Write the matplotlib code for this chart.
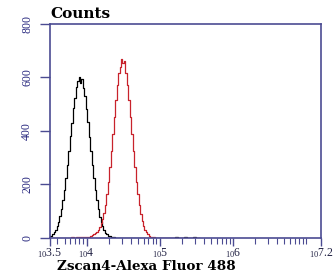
import numpy as np
import matplotlib
matplotlib.use('Agg')
import matplotlib.pyplot as plt
from matplotlib.ticker import FixedLocator, NullFormatter

plt.rcParams['font.family'] = ['Liberation Serif', 'DejaVu Serif']
plt.rcParams['mathtext.fontset'] = 'custom'
plt.rcParams['mathtext.rm'] = 'Liberation Serif'
plt.rcParams['mathtext.it'] = 'Liberation Serif:italic'
plt.rcParams['mathtext.bf'] = 'Liberation Serif:bold'

# 通道位置（对数十进位，3.50 ~ 5.54，步长 0.02）
log_ch = np.round(np.arange(3.50, 5.545, 0.02), 2)

# 同型对照（黑线）
control = [6, 9, 14, 21, 30, 43, 60, 82, 108, 141,
           180, 223, 272, 324, 380, 431, 485, 525, 565, 586,
           603, 580, 596, 560, 529, 481, 432, 377, 326, 271,
           224, 179, 143, 108, 80, 60, 44, 30, 20, 14,
           9, 6, 4, 3, 2, 1, 1, 0, 0, 0,
           0, 0, 0, 0, 0, 0, 0, 0, 0, 0,
           0, 0, 0, 0, 0, 0, 0, 0, 0, 0,
           0, 0, 0, 0, 0, 0, 0, 0, 0, 0,
           0, 0, 0, 0, 0, 0, 4, 5, 0, 0,
           0, 0, 4, 3, 0, 0, 0, 0, 3, 4,
           0, 0, 0]

# Zscan4 样品（红线）
sample = [1, 1, 1, 1, 1, 1, 1, 1, 1, 1,
          1, 1, 1, 1, 1, 2, 2, 1, 2, 2,
          2, 2, 3, 2, 3, 4, 4, 5, 8, 11,
          14, 18, 22, 30, 40, 54, 72, 95, 123, 163,
          210, 265, 325, 389, 454, 516, 571, 617, 640, 668,
          655, 660, 617, 571, 516, 454, 389, 325, 265, 210,
          163, 123, 90, 65, 45, 31, 21, 13, 8, 5,
          3, 2, 1, 1, 1, 1, 1, 1, 1, 1,
          1, 1, 1, 1, 1, 1, 1, 1, 1, 1,
          0, 0, 0, 0, 0, 0, 0, 0, 0, 0,
          0, 0, 0]

navy = '#4b4b92'

fig = plt.figure(figsize=(3.33, 2.76), dpi=100)
ax = fig.add_axes([0.150, 0.138, 0.814, 0.775])

x = 10 ** log_ch
ax.step(x, control, where='mid', color='black', lw=0.9)
ax.step(x, sample, where='mid', color='#c8232c', lw=0.9)

ax.set_xscale('log')
ax.set_xlim(10 ** 3.5, 10 ** 7.2)
ax.set_ylim(0, 800)

major = [10 ** 3.5, 10 ** 4, 10 ** 5, 10 ** 6, 10 ** 7.2]
ax.xaxis.set_major_locator(FixedLocator(major))
ax.set_xticklabels([r'$_{10}3.5$', r'$_{10}4$', r'$_{10}5$', r'$_{10}6$', r'$_{10}7.2$'])
minor = []
for e in range(3, 7):
    for s in range(2, 10):
        v = s * 10 ** e
        if 10 ** 3.5 < v < 10 ** 7.2:
            minor.append(v)
minor.append(10 ** 7)
ax.xaxis.set_minor_locator(FixedLocator(minor))
ax.xaxis.set_minor_formatter(NullFormatter())

ax.set_yticks([0, 200, 400, 600, 800])
ax.set_yticklabels(['0', '200', '400', '600', '800'], rotation=90, va='center')

for sp in ax.spines.values():
    sp.set_color(navy)
    sp.set_linewidth(1.2)
ax.tick_params(axis='y', which='major', colors=navy, labelcolor='#2a2a80',
               labelsize=8.5, length=7, width=1.0, direction='out', pad=5)
ax.tick_params(axis='x', which='major', colors=navy, labelcolor='#222244',
               labelsize=8.5, length=6, width=1.0, direction='out', pad=0)
ax.tick_params(axis='x', which='minor', colors=navy, length=4, width=0.8, direction='out')

fig.text(0.152, 0.925, 'Counts', fontsize=11, fontweight='bold', ha='left', va='bottom',
         family='DejaVu Serif')
fig.text(0.17, 0.036, 'Zscan4-Alexa Fluor 488', fontsize=9.7, fontweight='bold',
         ha='left', va='center', family='DejaVu Serif')

fig.savefig('out.png', dpi=100)
